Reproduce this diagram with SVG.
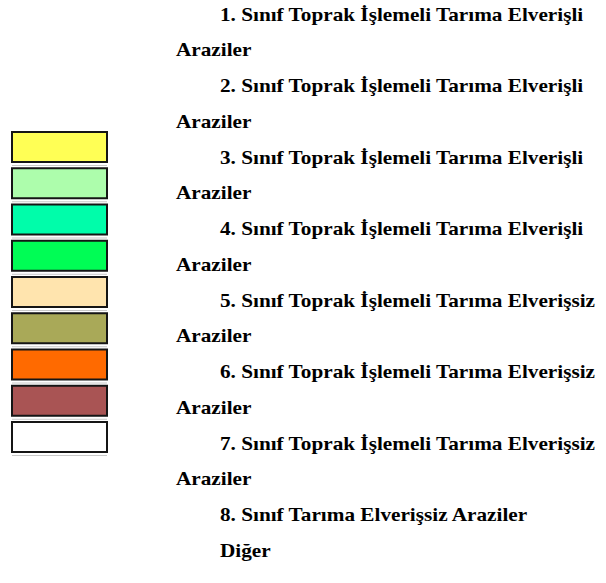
<svg xmlns="http://www.w3.org/2000/svg" width="606" height="583" viewBox="0 0 606 583">
<style>
.t{font-family:"Liberation Serif","Times New Roman",serif;font-weight:bold;font-size:18px;fill:#000}
.b{stroke:#151515;stroke-width:2}
.s{stroke:#c8c8c8;stroke-width:1}
</style>
<rect width="606" height="583" fill="#fff"/>
<g id="legend-boxes">
<g id="box1"><rect class="b" x="12" y="132" width="95" height="30" fill="#ffff55"/><line class="s" x1="12" y1="165.5" x2="107" y2="165.5"/></g>
<g id="box2"><rect class="b" x="12" y="168.25" width="95" height="30" fill="#adfdac"/><line class="s" x1="12" y1="201.75" x2="107" y2="201.75"/></g>
<g id="box3"><rect class="b" x="12" y="204.5" width="95" height="30" fill="#00fdaa"/><line class="s" x1="12" y1="238" x2="107" y2="238"/></g>
<g id="box4"><rect class="b" x="12" y="240.75" width="95" height="30" fill="#00fd55"/><line class="s" x1="12" y1="274.25" x2="107" y2="274.25"/></g>
<g id="box5"><rect class="b" x="12" y="277" width="95" height="30" fill="#ffe4ae"/><line class="s" x1="12" y1="310.5" x2="107" y2="310.5"/></g>
<g id="box6"><rect class="b" x="12" y="313.25" width="95" height="30" fill="#a9a958"/><line class="s" x1="12" y1="346.75" x2="107" y2="346.75"/></g>
<g id="box7"><rect class="b" x="12" y="349.5" width="95" height="30" fill="#ff6a00"/><line class="s" x1="12" y1="383" x2="107" y2="383"/></g>
<g id="box8"><rect class="b" x="12" y="385.75" width="95" height="30" fill="#a95454"/><line class="s" x1="12" y1="419.25" x2="107" y2="419.25"/></g>
<g id="box9"><rect class="b" x="12" y="422" width="95" height="30" fill="#ffffff"/><line class="s" x1="12" y1="455.5" x2="107" y2="455.5"/></g>
</g>
<g id="legend-labels" transform="scale(1.18,1)">
<text class="t" x="186.44" y="20.8">1. Sınıf Toprak İşlemeli Tarıma Elverişli</text>
<text class="t" x="149.15" y="56.5">Araziler</text>
<text class="t" x="186.44" y="92.3">2. Sınıf Toprak İşlemeli Tarıma Elverişli</text>
<text class="t" x="149.15" y="128">Araziler</text>
<text class="t" x="186.44" y="163.7">3. Sınıf Toprak İşlemeli Tarıma Elverişli</text>
<text class="t" x="149.15" y="199.5">Araziler</text>
<text class="t" x="186.44" y="235.2">4. Sınıf Toprak İşlemeli Tarıma Elverişli</text>
<text class="t" x="149.15" y="270.9">Araziler</text>
<text class="t" x="186.44" y="306.6">5. Sınıf Toprak İşlemeli Tarıma Elverişsiz</text>
<text class="t" x="149.15" y="342.4">Araziler</text>
<text class="t" x="186.44" y="378.1">6. Sınıf Toprak İşlemeli Tarıma Elverişsiz</text>
<text class="t" x="149.15" y="413.8">Araziler</text>
<text class="t" x="186.44" y="449.6">7. Sınıf Toprak İşlemeli Tarıma Elverişsiz</text>
<text class="t" x="149.15" y="485.3">Araziler</text>
<text class="t" x="186.44" y="521">8. Sınıf Tarıma Elverişsiz Araziler</text>
<text class="t" x="186.44" y="556.8">Diğer</text>
</g>
</svg>
